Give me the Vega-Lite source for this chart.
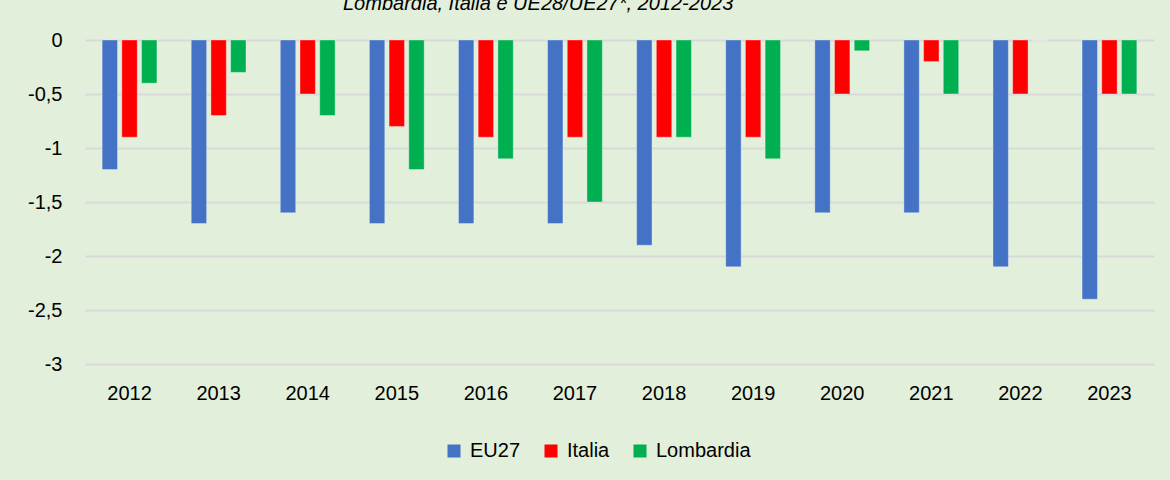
{
  "$schema": "https://vega.github.io/schema/vega-lite/v6.json",
  "width": 1069,
  "height": 324,
  "autosize": {"type": "none"},
  "padding": {"left": 85, "top": 40, "right": 16, "bottom": 116},
  "background": "#E2EFDA",
  "title": {
    "text": "Lombardia, Italia e UE28/UE27*, 2012-2023",
    "anchor": "start",
    "frame": "group",
    "dx": 258,
    "font": "Liberation Sans",
    "fontSize": 20,
    "fontStyle": "italic",
    "fontWeight": "normal",
    "color": "#000000",
    "baseline": "alphabetic",
    "offset": 0
  },
  "data": {
    "values": [
      {"anno": "2012", "serie": "EU27", "v": -1.2},
      {"anno": "2012", "serie": "Italia", "v": -0.9},
      {"anno": "2012", "serie": "Lombardia", "v": -0.4},
      {"anno": "2013", "serie": "EU27", "v": -1.7},
      {"anno": "2013", "serie": "Italia", "v": -0.7},
      {"anno": "2013", "serie": "Lombardia", "v": -0.3},
      {"anno": "2014", "serie": "EU27", "v": -1.6},
      {"anno": "2014", "serie": "Italia", "v": -0.5},
      {"anno": "2014", "serie": "Lombardia", "v": -0.7},
      {"anno": "2015", "serie": "EU27", "v": -1.7},
      {"anno": "2015", "serie": "Italia", "v": -0.8},
      {"anno": "2015", "serie": "Lombardia", "v": -1.2},
      {"anno": "2016", "serie": "EU27", "v": -1.7},
      {"anno": "2016", "serie": "Italia", "v": -0.9},
      {"anno": "2016", "serie": "Lombardia", "v": -1.1},
      {"anno": "2017", "serie": "EU27", "v": -1.7},
      {"anno": "2017", "serie": "Italia", "v": -0.9},
      {"anno": "2017", "serie": "Lombardia", "v": -1.5},
      {"anno": "2018", "serie": "EU27", "v": -1.9},
      {"anno": "2018", "serie": "Italia", "v": -0.9},
      {"anno": "2018", "serie": "Lombardia", "v": -0.9},
      {"anno": "2019", "serie": "EU27", "v": -2.1},
      {"anno": "2019", "serie": "Italia", "v": -0.9},
      {"anno": "2019", "serie": "Lombardia", "v": -1.1},
      {"anno": "2020", "serie": "EU27", "v": -1.6},
      {"anno": "2020", "serie": "Italia", "v": -0.5},
      {"anno": "2020", "serie": "Lombardia", "v": -0.1},
      {"anno": "2021", "serie": "EU27", "v": -1.6},
      {"anno": "2021", "serie": "Italia", "v": -0.2},
      {"anno": "2021", "serie": "Lombardia", "v": -0.5},
      {"anno": "2022", "serie": "EU27", "v": -2.1},
      {"anno": "2022", "serie": "Italia", "v": -0.5},
      {"anno": "2022", "serie": "Lombardia", "v": 0},
      {"anno": "2023", "serie": "EU27", "v": -2.4},
      {"anno": "2023", "serie": "Italia", "v": -0.5},
      {"anno": "2023", "serie": "Lombardia", "v": -0.5}
    ]
  },
  "mark": {"type": "bar", "stroke": "#FFFFFF", "strokeOpacity": 0.35, "strokeWidth": 1},
  "encoding": {
    "x": {
      "field": "anno",
      "type": "nominal",
      "scale": {"paddingInner": 0, "paddingOuter": 0},
      "axis": {
        "title": null,
        "labelAngle": 0,
        "domain": false,
        "ticks": false,
        "labelPadding": 19,
        "labelFont": "Liberation Sans",
        "labelFontSize": 20,
        "labelColor": "#000000"
      }
    },
    "xOffset": {
      "field": "serie",
      "type": "nominal",
      "scale": {"paddingInner": 0.218, "paddingOuter": 0.87}
    },
    "y": {
      "field": "v",
      "type": "quantitative",
      "scale": {"domain": [-3, 0], "nice": false, "zero": true},
      "axis": {
        "title": null,
        "values": [0, -0.5, -1, -1.5, -2, -2.5, -3],
        "labelExpr": "replace(toString(datum.value), '.', ',')",
        "domain": false,
        "ticks": false,
        "labelPadding": 23,
        "labelFont": "Liberation Sans",
        "labelFontSize": 20,
        "labelColor": "#000000",
        "gridColor": "#D9D9D9",
        "gridWidth": 2
      }
    },
    "color": {
      "field": "serie",
      "type": "nominal",
      "scale": {"domain": ["EU27", "Italia", "Lombardia"], "range": ["#4472C4", "#FF0000", "#00B050"]},
      "legend": {
        "title": null,
        "orient": "none",
        "direction": "horizontal",
        "legendX": 359,
        "legendY": 401,
        "padding": 0,
        "symbolType": "square",
        "symbolSize": 169,
        "symbolStrokeWidth": 0,
        "labelFont": "Liberation Sans",
        "labelFontSize": 20,
        "labelColor": "#000000",
        "labelOffset": 6,
        "columnPadding": 20
      }
    }
  },
  "config": {
    "view": {"stroke": null}
  }
}
